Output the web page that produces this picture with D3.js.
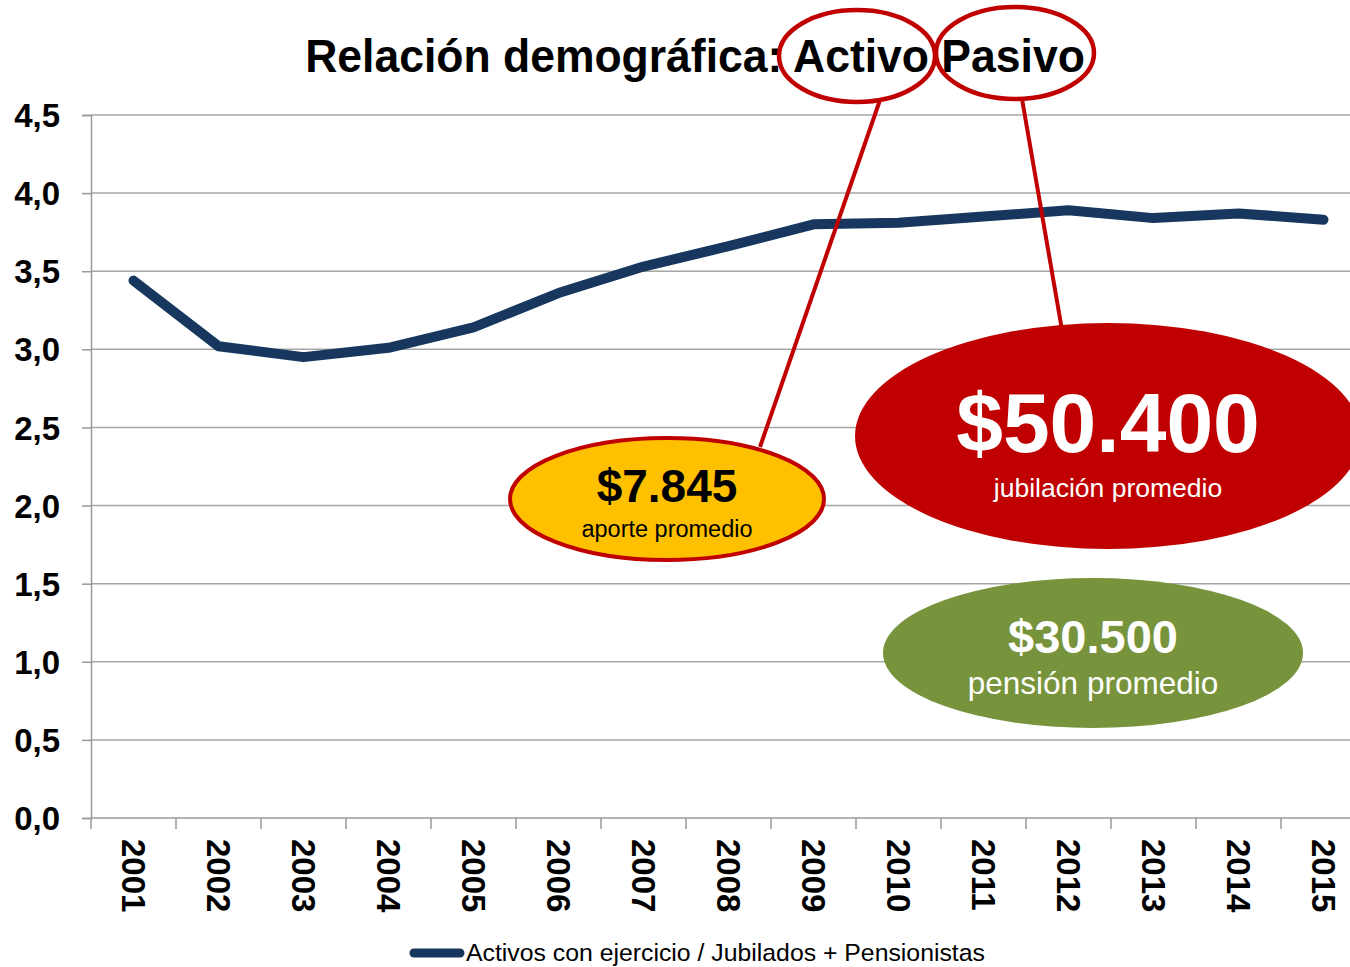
<!DOCTYPE html>
<html>
<head>
<meta charset="utf-8">
<script src="https://cdn.jsdelivr.net/npm/d3@7"></script>
<style>
  body { margin: 0; background: #fff; }
  svg { display: block; font-family: "Liberation Sans", Arial, sans-serif; }
</style>
</head>
<body>
<svg id="chart" width="1350" height="967"></svg>
<script>
// data
const years = ["2001", "2002", "2003", "2004", "2005", "2006", "2007", "2008",
               "2009", "2010", "2011", "2012", "2013", "2014", "2015"];
const ratio = [3.44, 3.02, 2.95, 3.01, 3.14, 3.36, 3.53, 3.66,
               3.80, 3.81, 3.85, 3.89, 3.84, 3.87, 3.83];
const yTicks = [0, 0.5, 1, 1.5, 2, 2.5, 3, 3.5, 4, 4.5];
const seriesName = "Activos con ejercicio / Jubilados + Pensionistas";

// callouts
const callouts = [
  {big: "$7.845", small: "aporte promedio", fill: "#FFC000", stroke: "#C00000", color: "#000"},
  {big: "$50.400", small: "jubilación promedio", fill: "#C00000", stroke: "none", color: "#fff"},
  {big: "$30.500", small: "pensión promedio", fill: "#77933C", stroke: "none", color: "#fff"}
];

const svg = d3.select("#chart");
const W = 1350;
const plotLeft = 91, plotTop = 115, plotBottom = 818;

const x = d3.scaleBand().domain(years).range([plotLeft, plotLeft + 85 * years.length]);
const y = d3.scaleLinear().domain([0, 4.5]).range([plotBottom, plotTop]);
const fmt = d => d3.format(".1f")(d).replace(".", ",");

// grid
svg.append("g").selectAll("line.grid")
  .data(yTicks.filter(d => d > 0))
  .enter().append("line")
    .attr("class", "grid")
    .attr("x1", plotLeft).attr("x2", W)
    .attr("y1", d => y(d)).attr("y2", d => y(d))
    .attr("stroke", "#a6a6a6").attr("stroke-width", 1.5);

// y axis
const yAxis = svg.append("g")
    .attr("transform", `translate(${plotLeft},0)`)
    .call(d3.axisLeft(y).tickValues(yTicks).tickSize(9).tickFormat(fmt));
yAxis.select(".domain").attr("stroke", "#999").attr("stroke-width", 1.5);
yAxis.selectAll(".tick line").attr("stroke", "#999").attr("stroke-width", 1.5);
yAxis.selectAll(".tick text")
    .attr("x", -31).attr("dy", "0.35em")
    .attr("font-size", 33).attr("font-weight", "bold").attr("fill", "#000")
    .attr("font-family", "Liberation Sans, Arial, sans-serif");

// x axis
svg.append("line")
    .attr("x1", plotLeft).attr("x2", W).attr("y1", plotBottom).attr("y2", plotBottom)
    .attr("stroke", "#999").attr("stroke-width", 1.5);

svg.append("g").selectAll("line.xt")
  .data(years)
  .enter().append("line")
    .attr("x1", d => x(d)).attr("x2", d => x(d))
    .attr("y1", plotBottom).attr("y2", plotBottom + 11)
    .attr("stroke", "#999").attr("stroke-width", 1.5);

svg.append("g").selectAll("text.xl")
  .data(years)
  .enter().append("text")
    .attr("transform", d => `translate(${x(d) + x.bandwidth() / 2},839) rotate(90)`)
    .attr("dy", "0.36em")
    .attr("font-size", 33).attr("font-weight", "bold")
    .text(d => d);

// line
const line = d3.line()
    .x((d, i) => x(years[i]) + x.bandwidth() / 2)
    .y(d => y(d));

svg.append("path")
    .datum(ratio)
    .attr("d", line)
    .attr("fill", "none")
    .attr("stroke", "#17375E")
    .attr("stroke-width", 10)
    .attr("stroke-linejoin", "round")
    .attr("stroke-linecap", "round");

// title (slightly stretched vertically like the source)
svg.append("text")
    .attr("transform", "translate(695,72) scale(1,1.06)")
    .attr("text-anchor", "middle")
    .attr("font-size", 44.5).attr("font-weight", "bold")
    .text("Relación demográfica: Activo Pasivo");

// title highlight rings and pointers
svg.append("line").attr("x1", 880).attr("y1", 100).attr("x2", 760).attr("y2", 447)
    .attr("stroke", "#C00000").attr("stroke-width", 4);
svg.append("line").attr("x1", 1022).attr("y1", 99).attr("x2", 1062).attr("y2", 330)
    .attr("stroke", "#C00000").attr("stroke-width", 4);

[[857, 56, 78, 46], [1015, 53, 79, 46]].forEach(e => {
  svg.append("ellipse")
      .attr("cx", e[0]).attr("cy", e[1]).attr("rx", e[2]).attr("ry", e[3])
      .attr("fill", "none").attr("stroke", "#C00000").attr("stroke-width", 4.5);
});

// callout bubbles
const shapes = [
  {cx: 667, cy: 499, rx: 157, ry: 61, bigY: 502, bigS: 46, smallY: 537, smallS: 23.5},
  {cx: 1108, cy: 436, rx: 253, ry: 113, bigY: 452, bigS: 84, smallY: 497, smallS: 26.5},
  {cx: 1093, cy: 653, rx: 210, ry: 75, bigY: 653, bigS: 47, smallY: 694, smallS: 31.5}
];

callouts.forEach((c, i) => {
  const s = shapes[i];
  const g = svg.append("g");
  g.append("ellipse")
      .attr("cx", s.cx).attr("cy", s.cy).attr("rx", s.rx).attr("ry", s.ry)
      .attr("fill", c.fill).attr("stroke", c.stroke).attr("stroke-width", 4);
  g.append("text")
      .attr("x", s.cx).attr("y", s.bigY).attr("text-anchor", "middle")
      .attr("font-size", s.bigS).attr("font-weight", "bold").attr("fill", c.color)
      .text(c.big);
  g.append("text")
      .attr("x", s.cx).attr("y", s.smallY).attr("text-anchor", "middle")
      .attr("font-size", s.smallS).attr("fill", c.color)
      .text(c.small);
});

// legend
svg.append("line")
    .attr("x1", 414).attr("x2", 460).attr("y1", 953).attr("y2", 953)
    .attr("stroke", "#17375E").attr("stroke-width", 9).attr("stroke-linecap", "round");
svg.append("text")
    .attr("x", 466).attr("y", 961)
    .attr("font-size", 24.8).attr("fill", "#000")
    .text(seriesName);
</script>
</body>
</html>
